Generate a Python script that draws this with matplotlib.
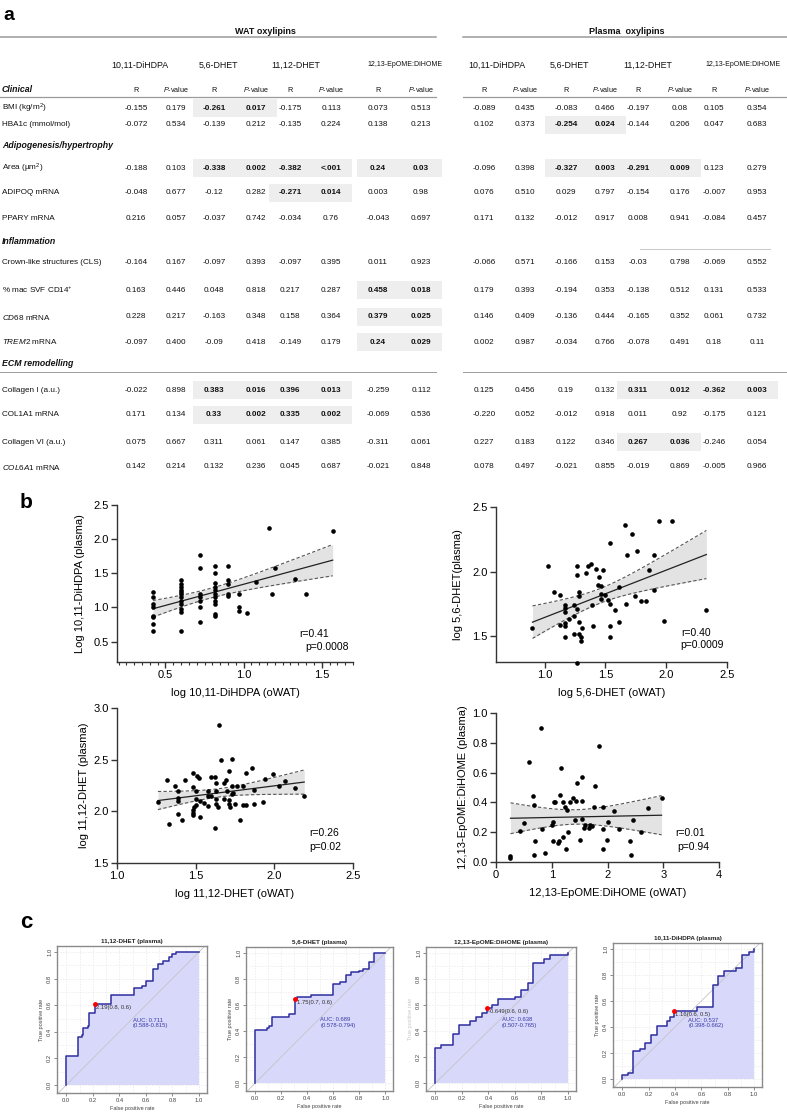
#!/usr/bin/env python3
import numpy as np
import matplotlib
matplotlib.use("Agg")
import matplotlib.pyplot as plt
from matplotlib import font_manager
from matplotlib.patches import Rectangle
from matplotlib.ticker import MultipleLocator

W, H = 787, 1116

# ========= panel a: correlation table =========

sections = ["Clinical", "Adipogenesis/hypertrophy", "Inflammation", "ECM remodelling"]
section_sizes = [2, 3, 4, 4]
row_labels = [
    "BMI (kg/m$^{2}$)", "HBA1c (mmol/mol)",
    "Area (µm$^{2}$)", "ADIPOQ mRNA", "PPARY mRNA",
    "Crown-like structures (CLS)", "% mac SVF CD14$^{+}$",
    r"$\it{CD68}$ mRNA", r"$\it{TREM2}$ mRNA",
    "Collagen I (a.u.)", "COL1A1 mRNA", "Collagen VI (a.u.)", r"$\it{COL6A1}$ mRNA",
]
compounds = ["10,11-DiHDPA", "5,6-DHET", "11,12-DHET", "12,13-EpOME:DiHOME"]

wat_r = [
    ["-0.155", "-0.261", "-0.175", "0.073"],
    ["-0.072", "-0.139", "-0.135", "0.138"],
    ["-0.188", "-0.338", "-0.382", "0.24"],
    ["-0.048", "-0.12", "-0.271", "0.003"],
    ["0.216", "-0.037", "-0.034", "-0.043"],
    ["-0.164", "-0.097", "-0.097", "0.011"],
    ["0.163", "0.048", "0.217", "0.458"],
    ["0.228", "-0.163", "0.158", "0.379"],
    ["-0.097", "-0.09", "-0.149", "0.24"],
    ["-0.022", "0.383", "0.396", "-0.259"],
    ["0.171", "0.33", "0.335", "-0.069"],
    ["0.075", "0.311", "0.147", "-0.311"],
    ["0.142", "0.132", "0.045", "-0.021"],
]
wat_p = [
    ["0.179", "0.017", "0.113", "0.513"],
    ["0.534", "0.212", "0.224", "0.213"],
    ["0.103", "0.002", "<.001", "0.03"],
    ["0.677", "0.282", "0.014", "0.98"],
    ["0.057", "0.742", "0.76", "0.697"],
    ["0.167", "0.393", "0.395", "0.923"],
    ["0.446", "0.818", "0.287", "0.018"],
    ["0.217", "0.348", "0.364", "0.025"],
    ["0.400", "0.418", "0.179", "0.029"],
    ["0.898", "0.016", "0.013", "0.112"],
    ["0.134", "0.002", "0.002", "0.536"],
    ["0.667", "0.061", "0.385", "0.061"],
    ["0.214", "0.236", "0.687", "0.848"],
]
plasma_r = [
    ["-0.089", "-0.083", "-0.197", "0.105"],
    ["0.102", "-0.254", "-0.144", "0.047"],
    ["-0.096", "-0.327", "-0.291", "0.123"],
    ["0.076", "0.029", "-0.154", "-0.007"],
    ["0.171", "-0.012", "0.008", "-0.084"],
    ["-0.066", "-0.166", "-0.03", "-0.069"],
    ["0.179", "-0.194", "-0.138", "0.131"],
    ["0.146", "-0.136", "-0.165", "0.061"],
    ["0.002", "-0.034", "-0.078", "0.18"],
    ["0.125", "0.19", "0.311", "-0.362"],
    ["-0.220", "-0.012", "0.011", "-0.175"],
    ["0.227", "0.122", "0.267", "-0.246"],
    ["0.078", "-0.021", "-0.019", "-0.005"],
]
plasma_p = [
    ["0.435", "0.466", "0.08", "0.354"],
    ["0.373", "0.024", "0.206", "0.683"],
    ["0.398", "0.003", "0.009", "0.279"],
    ["0.510", "0.797", "0.176", "0.953"],
    ["0.132", "0.917", "0.941", "0.457"],
    ["0.571", "0.153", "0.798", "0.552"],
    ["0.393", "0.353", "0.512", "0.533"],
    ["0.409", "0.444", "0.352", "0.732"],
    ["0.987", "0.766", "0.491", "0.11"],
    ["0.456", "0.132", "0.012", "0.003"],
    ["0.052", "0.918", "0.92", "0.121"],
    ["0.183", "0.346", "0.036", "0.054"],
    ["0.497", "0.855", "0.869", "0.966"],
]

# ========= panel b: scatter data =========

dihdpa_wat = [0.42] * 8 + [0.60] * 12 + [0.72] * 7 + [0.82] * 11 + [0.90] * 5 + [0.97] * 3 + \
    [1.02, 1.08, 1.16, 1.18, 1.20, 1.33, 1.40, 1.57]
dihdpa_plasma = [1.22, 1.15, 1.05, 1.00, 0.88, 0.86, 0.75, 0.66,
                 1.40, 1.35, 1.30, 1.25, 1.22, 1.19, 1.15, 1.10, 1.05, 0.97, 0.93, 0.66,
                 1.77, 1.58, 1.20, 1.15, 1.10, 1.00, 0.78,
                 1.61, 1.50, 1.36, 1.30, 1.25, 1.20, 1.15, 1.10, 1.05, 0.91, 0.88,
                 1.60, 1.40, 1.35, 1.20, 1.17,
                 1.19, 1.00, 0.95,
                 0.92, 1.37, 2.17, 1.19, 1.58, 1.42, 1.19, 2.12]

dhet56_wat = [0.90, 1.03, 1.08, 1.13, 1.13, 1.17, 1.17, 1.17, 1.17, 1.17, 1.17, 1.20, 1.24, 1.24,
              1.24, 1.27, 1.27, 1.27, 1.28, 1.28, 1.28, 1.28, 1.30, 1.31, 1.34, 1.36, 1.38, 1.39,
              1.40, 1.42, 1.44, 1.46, 1.46, 1.46, 1.45, 1.48, 1.50, 1.52, 1.54, 1.54, 1.54, 1.54,
              1.58, 1.61, 1.61, 1.66, 1.67, 1.68, 1.72, 1.74, 1.76, 1.79, 1.83, 1.86, 1.90, 1.90,
              1.94, 1.98, 2.05, 2.33, 1.27, 1.30]
dhet56_plasma = [1.56, 2.04, 1.84, 1.82, 1.59, 1.74, 1.72, 1.69, 1.60, 1.58, 1.49, 1.63, 1.74, 1.66,
                 1.52, 1.71, 2.04, 1.97, 1.84, 1.81, 1.61, 1.52, 1.49, 1.56, 1.99, 2.04, 2.06, 1.74,
                 1.58, 2.02, 1.90, 1.89, 1.83, 1.79, 1.96, 2.01, 1.82, 1.78, 1.75, 2.22, 1.58, 1.49,
                 1.70, 1.88, 1.61, 2.36, 1.75, 2.13, 2.29, 1.81, 2.16, 1.77, 1.77, 2.01, 2.13, 1.86,
                 2.39, 1.62, 2.39, 1.70, 1.29, 1.46]

dhet1112_wat = [1.26, 1.32, 1.33, 1.37, 1.39, 1.39, 1.39, 1.39, 1.41, 1.43, 1.48, 1.48, 1.48, 1.48,
                1.48, 1.50, 1.50, 1.51, 1.52, 1.50, 1.53, 1.53, 1.55, 1.58, 1.58, 1.60, 1.60, 1.62,
                1.62, 1.63, 1.63, 1.63, 1.63, 1.66, 1.65, 1.68, 1.68, 1.69, 1.70, 1.71, 1.71, 1.71,
                1.73, 1.73, 1.73, 1.74, 1.75, 1.76, 1.78, 1.80, 1.80, 1.82, 1.82, 1.86, 1.87, 1.93,
                1.94, 1.99, 2.03, 2.07, 2.13, 2.19, 1.49, 1.58, 1.64, 1.72, 1.87]
dhet1112_plasma = [2.09, 2.30, 1.88, 2.25, 2.20, 2.13, 2.10, 1.97, 1.92, 2.30, 2.37, 2.24, 2.01, 1.98,
                   1.96, 2.12, 2.06, 2.34, 2.32, 2.20, 1.95, 2.10, 2.08, 2.20, 2.15, 2.15, 2.33, 2.33,
                   1.84, 2.27, 2.20, 2.12, 2.07, 2.50, 2.84, 2.27, 2.12, 2.30, 2.20, 2.39, 2.11, 2.07,
                   2.51, 2.25, 2.17, 2.18, 2.07, 2.25, 1.92, 2.06, 2.25, 2.06, 2.37, 2.42, 2.21, 2.09,
                   2.31, 2.36, 2.25, 2.29, 2.23, 2.15, 2.04, 2.05, 2.04, 2.04, 2.07]

epome_wat = [0.81, 0.59, 0.67, 0.68, 0.51, 0.43, 0.82, 1.00, 1.03, 1.04, 1.06, 1.14, 1.17, 1.21,
             1.24, 1.27, 1.33, 1.38, 1.43, 1.45, 1.42, 1.54, 1.55, 1.55, 1.57, 1.60, 1.66, 1.69,
             1.72, 1.75, 1.78, 1.84, 1.92, 1.92, 2.01, 2.12, 2.73, 2.97, 0.26, 0.26, 0.68, 0.88,
             1.25, 1.03, 1.12, 1.13, 0.70, 1.51, 1.92, 1.99, 2.42, 2.40, 2.20, 2.45, 2.60, 1.30, 1.20]
epome_plasma = [0.90, 0.67, 0.44, 0.38, 0.26, 0.21, 0.22, 0.25, 0.27, 0.40, 0.40, 0.45, 0.63, 0.40,
                0.37, 0.35, 0.40, 0.43, 0.41, 0.53, 0.28, 0.57, 0.41, 0.29, 0.23, 0.25, 0.23, 0.25,
                0.24, 0.37, 0.51, 0.78, 0.37, 0.22, 0.27, 0.34, 0.36, 0.43, 0.04, 0.025, 0.05, 0.06,
                0.085, 0.14, 0.13, 0.14, 0.14, 0.15, 0.09, 0.15, 0.05, 0.14, 0.22, 0.28, 0.20, 0.20, 0.17]

scatter_stats = [("r=0.41", "p=0.0008"), ("r=0.40", "p=0.0009"),
                 ("r=0.26", "p=0.02"), ("r=0.01", "p=0.94")]

# ========= panel c: ROC curves (steps) =========

roc_titles = ["11,12-DHET (plasma)", "5,6-DHET (plasma)",
              "12,13-EpOME:DiHOME (plasma)", "10,11-DiHDPA (plasma)"]
roc_fpr = [
    [0, 0.085, 0.115, 0.125, 0.165, 0.17, 0.215, 0.34, 0.51, 0.57, 0.6, 0.65, 0.69, 0.73,
     0.775, 0.8, 0.83, 1.0],
    [0, 0.09, 0.11, 0.13, 0.26, 0.31, 0.32, 0.43, 0.6, 0.65, 0.7, 0.74, 0.8, 0.83, 0.875,
     0.915, 1.0],
    [0, 0.045, 0.13, 0.18, 0.26, 0.31, 0.35, 0.39, 0.43, 0.47, 0.6, 0.645, 0.7, 0.735, 0.82,
     0.865, 1.0, 1.0],
    [0, 0.04, 0.085, 0.135, 0.175, 0.215, 0.26, 0.34, 0.365, 0.39, 0.565, 0.69, 0.73, 0.775,
     0.865, 0.905, 0.91, 0.96, 1.0, 1.0],
]
roc_tpr = [
    [0, 0.22, 0.36, 0.375, 0.425, 0.44, 0.54, 0.61, 0.68, 0.73, 0.745, 0.78, 0.87, 0.91,
     0.93, 0.96, 0.985, 1.0],
    [0, 0.41, 0.42, 0.44, 0.51, 0.53, 0.645, 0.665, 0.68, 0.76, 0.78, 0.83, 0.85, 0.86, 0.88,
     0.93, 1.0],
    [0, 0.27, 0.29, 0.377, 0.445, 0.477, 0.51, 0.535, 0.578, 0.60, 0.645, 0.665, 0.715, 0.765,
     0.92, 0.955, 0.985, 1.0],
    [0, 0.03, 0.05, 0.22, 0.235, 0.275, 0.34, 0.41, 0.45, 0.475, 0.525, 0.555, 0.725, 0.795,
     0.83, 0.855, 0.88, 0.95, 0.975, 1.0],
]
cut_fpr = [0.215, 0.31, 0.39, 0.39]
cut_tpr = [0.61, 0.645, 0.578, 0.525]
cut_labels = ["2.19(0.8, 0.6)", "1.75(0.7, 0.6)", "-0.649(0.6, 0.6)", "1.16(0.6, 0.5)"]
auc_labels = ["AUC: 0.711\n(0.588-0.815)", "AUC: 0.689\n(0.578-0.794)",
              "AUC: 0.638\n(0.507-0.765)", "AUC: 0.537\n(0.398-0.662)"]


# ========= helpers =========

def pick_family(preferred, fallback):
    names = {f.name for f in font_manager.fontManager.ttflist}
    return preferred if preferred in names else fallback


SANS = "Liberation Sans"
TABLE_FONT = pick_family("Liberation Sans Narrow", SANS)
NARROW = TABLE_FONT != SANS


def px_rect(x0, y0, x1, y1):
    """Figure-fraction rect from pixel box (top-left origin)."""
    return [x0 / W, 1 - y1 / H, (x1 - x0) / W, (y1 - y0) / H]


def p_number(s):
    return 0.0009 if s.startswith("<") else float(s)


# ========= panel a =========

def draw_table(ax):
    fs = 6.6 if NARROW else 5.9
    line_c = "#9a9a9a"
    kw = dict(family=TABLE_FONT, va="center", color="#111111")

    wat_x = [136, 176, 214, 256, 290, 331, 378, 421]
    plasma_x = [484, 525, 566, 605, 638, 680, 714, 757]
    wat_head = [140, 218, 296, 405]
    plasma_head = [497, 569, 648, 743]
    section_y = [90, 146, 241, 364]
    row_y = [108, 125, 168, 193, 219, 263, 290, 317, 342, 390, 415, 442, 467]

    ax.text(265, 31, "WAT oxylipins", ha="center", fontsize=fs + 0.6,
            fontweight="bold", **kw)
    ax.text(627, 31, "Plasma  oxylipins", ha="center", fontsize=fs + 0.6,
            fontweight="bold", **kw)
    for x0, x1 in [(0, 436), (463, 787)]:
        ax.plot([x0, x1], [37, 37], color=line_c, lw=1.1)
        ax.plot([x0, x1], [97, 97], color=line_c, lw=0.9)
        ax.plot([x0, x1], [372, 372], color=line_c, lw=0.7)
    ax.plot([640, 770], [249, 249], color="#c8c8c8", lw=0.7)

    blocks = [(wat_x, wat_head, wat_r, wat_p), (plasma_x, plasma_head, plasma_r, plasma_p)]
    for cols, heads, rs, ps in blocks:
        for k, name in enumerate(compounds):
            hfs = fs - 0.9 if name.startswith("12,13") else fs + 0.5
            ax.text(heads[k], 65, name, ha="center", fontsize=hfs, **kw)
            ax.text(cols[2 * k], 90, "R", ha="center", fontsize=fs - 0.7, **kw)
            ax.text(cols[2 * k + 1], 90, r"$\it{P}$-value", ha="center",
                    fontsize=fs - 0.7, **kw)
        for i, y in enumerate(row_y):
            for k in range(4):
                sig = p_number(ps[i][k]) < 0.05
                xr, xp = cols[2 * k], cols[2 * k + 1]
                if sig:
                    ax.add_patch(Rectangle((xr - 21, y - 9), xp - xr + 42, 18,
                                           facecolor="#eeeeee", lw=0, zorder=0))
                weight = "bold" if sig else "normal"
                ax.text(xr, y, rs[i][k], ha="center", fontsize=fs, fontweight=weight, **kw)
                ax.text(xp, y, ps[i][k], ha="center", fontsize=fs, fontweight=weight, **kw)

    for s, name in enumerate(sections):
        ax.text(2, section_y[s], name, ha="left", fontsize=fs + 0.4,
                fontweight="bold", style="italic", **kw)
    for i, label in enumerate(row_labels):
        ax.text(2, row_y[i], label, ha="left", fontsize=fs, **kw)


# ========= panel b =========

def scatter_panel(fig, box, x, y, xlim, ylim, xticks, yticks, xlabel, ylabel,
                  ylabel_px, stats, stats_px, minor=None, fmt="{:.1f}"):
    x = np.asarray(x, dtype=float)
    y = np.asarray(y, dtype=float)
    ax = fig.add_axes(px_rect(*box))

    # regression line with 95% confidence band
    n = len(x)
    slope, icpt = np.polyfit(x, y, 1)
    xs = np.linspace(x.min(), x.max(), 200)
    yhat = icpt + slope * xs
    resid = y - (icpt + slope * x)
    s = np.sqrt(np.sum(resid ** 2) / (n - 2))
    se = s * np.sqrt(1.0 / n + (xs - x.mean()) ** 2 / np.sum((x - x.mean()) ** 2))
    lo, hi = yhat - 1.99 * se, yhat + 1.99 * se
    ax.fill_between(xs, lo, hi, color="#e3e3e3", lw=0, zorder=1)
    ax.plot(xs, lo, color="#555555", lw=0.8, ls=(0, (3, 2)), zorder=2)
    ax.plot(xs, hi, color="#555555", lw=0.8, ls=(0, (3, 2)), zorder=2)
    ax.plot(xs, yhat, color="#222222", lw=0.9, zorder=3)

    ax.scatter(x, y, s=11, color="black", lw=0, zorder=4, clip_on=False)

    ax.set_xlim(*xlim)
    ax.set_ylim(*ylim)
    ax.set_xticks(xticks)
    ax.set_yticks(yticks)
    ax.set_xticklabels([fmt.format(t) for t in xticks])
    ax.set_yticklabels(["{:.1f}".format(t) for t in yticks])
    if minor:
        ax.xaxis.set_minor_locator(MultipleLocator(minor))
    for side in ("top", "right"):
        ax.spines[side].set_visible(False)
    for side in ("left", "bottom"):
        ax.spines[side].set_linewidth(1.0)
        ax.spines[side].set_color("#333333")
    ax.tick_params(which="major", length=4, width=1.0, color="#333333",
                   labelsize=8, pad=2)
    ax.tick_params(which="minor", length=2.5, width=0.8, color="#333333")
    for lab in ax.get_xticklabels() + ax.get_yticklabels():
        lab.set_family(SANS)

    ax.set_xlabel(xlabel, fontsize=8, family=SANS, va="center")
    ax.set_ylabel(ylabel, fontsize=8, family=SANS, va="center")
    x0, y0, x1, y1 = box
    ax.yaxis.set_label_coords((ylabel_px - x0) / (x1 - x0), 0.5)
    ax.xaxis.set_label_coords(0.5, -31.0 / (y1 - y0))

    (rx, ry), (px_, py_) = stats_px
    fig.text(rx / W, 1 - ry / H, stats[0], fontsize=7.5, family=SANS,
             ha="center", va="center")
    fig.text(px_ / W, 1 - py_ / H, stats[1], fontsize=7.5, family=SANS,
             ha="center", va="center")
    return ax


# ========= panel c =========

def roc_panel(fig, box, fpr, tpr, title, cut_xy, cut_label, auc_label, auc_y,
              faint_ylabel=False):
    ax = fig.add_axes(px_rect(*box))
    ax.set_xlim(-0.07, 1.06)
    ax.set_ylim(-0.06, 1.045)

    grid = np.arange(0, 1.01, 0.1)
    for g in grid:
        ax.axvline(g, color="#e6e6e6", lw=0.5, ls=(0, (2, 2)), zorder=0)
        ax.axhline(g, color="#e6e6e6", lw=0.5, ls=(0, (2, 2)), zorder=0)

    ax.fill_between(fpr, tpr, 0, step="pre", color="#d8d8fa", lw=0, zorder=1)
    ax.plot([-0.2, 1.2], [-0.2, 1.2], color="#c4c4c4", lw=0.6, zorder=2)
    ax.plot(fpr, tpr, drawstyle="steps-pre", color="#2e2e9e", lw=1.1, zorder=3)
    ax.plot([cut_xy[0]], [cut_xy[1]], "o", color="red", ms=2.5, zorder=4)
    ax.text(cut_xy[0] + 0.01, cut_xy[1] - 0.025, cut_label, fontsize=4.2,
            family=SANS, color="#333333", va="center", ha="left", zorder=5)
    ax.text(0.5, auc_y, auc_label, fontsize=4.2, family=SANS, color="#3a3aa8",
            va="center", ha="left", linespacing=1.1, zorder=5)

    ticks = [0.0, 0.2, 0.4, 0.6, 0.8, 1.0]
    ax.set_xticks(ticks)
    ax.set_yticks(ticks)
    ax.set_xticklabels(["{:.1f}".format(t) for t in ticks])
    ax.set_yticklabels(["{:.1f}".format(t) for t in ticks], rotation=90, va="center")
    ax.tick_params(length=2, width=0.6, color="#777777", labelsize=4.2,
                   labelcolor="#444444", pad=1.5)
    for lab in ax.get_xticklabels() + ax.get_yticklabels():
        lab.set_family(SANS)
    for sp in ax.spines.values():
        sp.set_color("#8a8a8a")
        sp.set_linewidth(1.0)

    ax.set_title(title, fontsize=4.5, fontweight="bold", family=SANS, pad=2,
                 color="#222222")
    ax.set_xlabel("False positive rate", fontsize=4.0, family=SANS, color="#444444")
    ax.set_ylabel("True positive rate", fontsize=4.0, family=SANS,
                  color="#c8c8c8" if faint_ylabel else "#444444")
    ax.xaxis.labelpad = 2
    ax.yaxis.labelpad = 2
    return ax


# ========= main =========

def main():
    plt.rcParams["font.family"] = [SANS, "DejaVu Sans"]
    plt.rcParams["mathtext.fontset"] = "custom"
    plt.rcParams["mathtext.rm"] = TABLE_FONT
    plt.rcParams["mathtext.it"] = TABLE_FONT + ":italic"
    plt.rcParams["mathtext.bf"] = TABLE_FONT + ":bold"

    fig = plt.figure(figsize=(W / 100, H / 100), dpi=100)
    base = fig.add_axes([0, 0, 1, 1])
    base.set_xlim(0, W)
    base.set_ylim(H, 0)
    base.axis("off")

    for letter, (lx, ly, size) in zip("abc", [(3, 15, 14), (20, 503, 15), (20, 922, 16)]):
        base.text(lx, ly, letter, fontsize=size, fontweight="bold", family=SANS,
                  va="center", ha="left")

    draw_table(base)

    scatter_panel(fig, (117, 505, 353, 662), dihdpa_wat, dihdpa_plasma,
                  (0.19, 1.70), (0.2, 2.5), [0.5, 1.0, 1.5], [0.5, 1.0, 1.5, 2.0, 2.5],
                  "log 10,11-DiHDPA (oWAT)", "Log 10,11-DiHDPA (plasma)", 80,
                  scatter_stats[0], ((314, 634), (327, 647)), minor=0.05)
    scatter_panel(fig, (496, 507, 727, 662), dhet56_wat, dhet56_plasma,
                  (0.6, 2.5), (1.3, 2.5), [1.0, 1.5, 2.0, 2.5], [1.5, 2.0, 2.5],
                  "log 5,6-DHET (oWAT)", "log 5,6-DHET(plasma)", 458,
                  scatter_stats[1], ((696, 633), (702, 645)))
    scatter_panel(fig, (117, 708, 353, 863), dhet1112_wat, dhet1112_plasma,
                  (1.0, 2.5), (1.5, 3.0), [1.0, 1.5, 2.0, 2.5], [1.5, 2.0, 2.5, 3.0],
                  "log 11,12-DHET (oWAT)", "log 11,12-DHET (plasma)", 84,
                  scatter_stats[2], ((324, 833), (325, 847)))
    scatter_panel(fig, (496, 713, 719, 862), epome_wat, epome_plasma,
                  (0, 4), (0, 1.0), [0, 1, 2, 3, 4], [0.0, 0.2, 0.4, 0.6, 0.8, 1.0],
                  "12,13-EpOME:DiHOME (oWAT)", "12,13-EpOME:DiHOME (plasma)", 463,
                  scatter_stats[3], ((690, 833), (693, 847)), fmt="{:.0f}")

    roc_boxes = [(57, 946, 207, 1093), (246, 947, 393, 1091),
                 (426, 947, 576, 1091), (613, 943, 762, 1087)]
    auc_y = [0.465, 0.465, 0.465, 0.43]
    for k, box in enumerate(roc_boxes):
        roc_panel(fig, box, roc_fpr[k], roc_tpr[k], roc_titles[k],
                  (cut_fpr[k], cut_tpr[k]), cut_labels[k], auc_labels[k], auc_y[k],
                  faint_ylabel=(k == 2))

    fig.savefig("out.png", dpi=100)
    plt.close(fig)


if __name__ == "__main__":
    main()
